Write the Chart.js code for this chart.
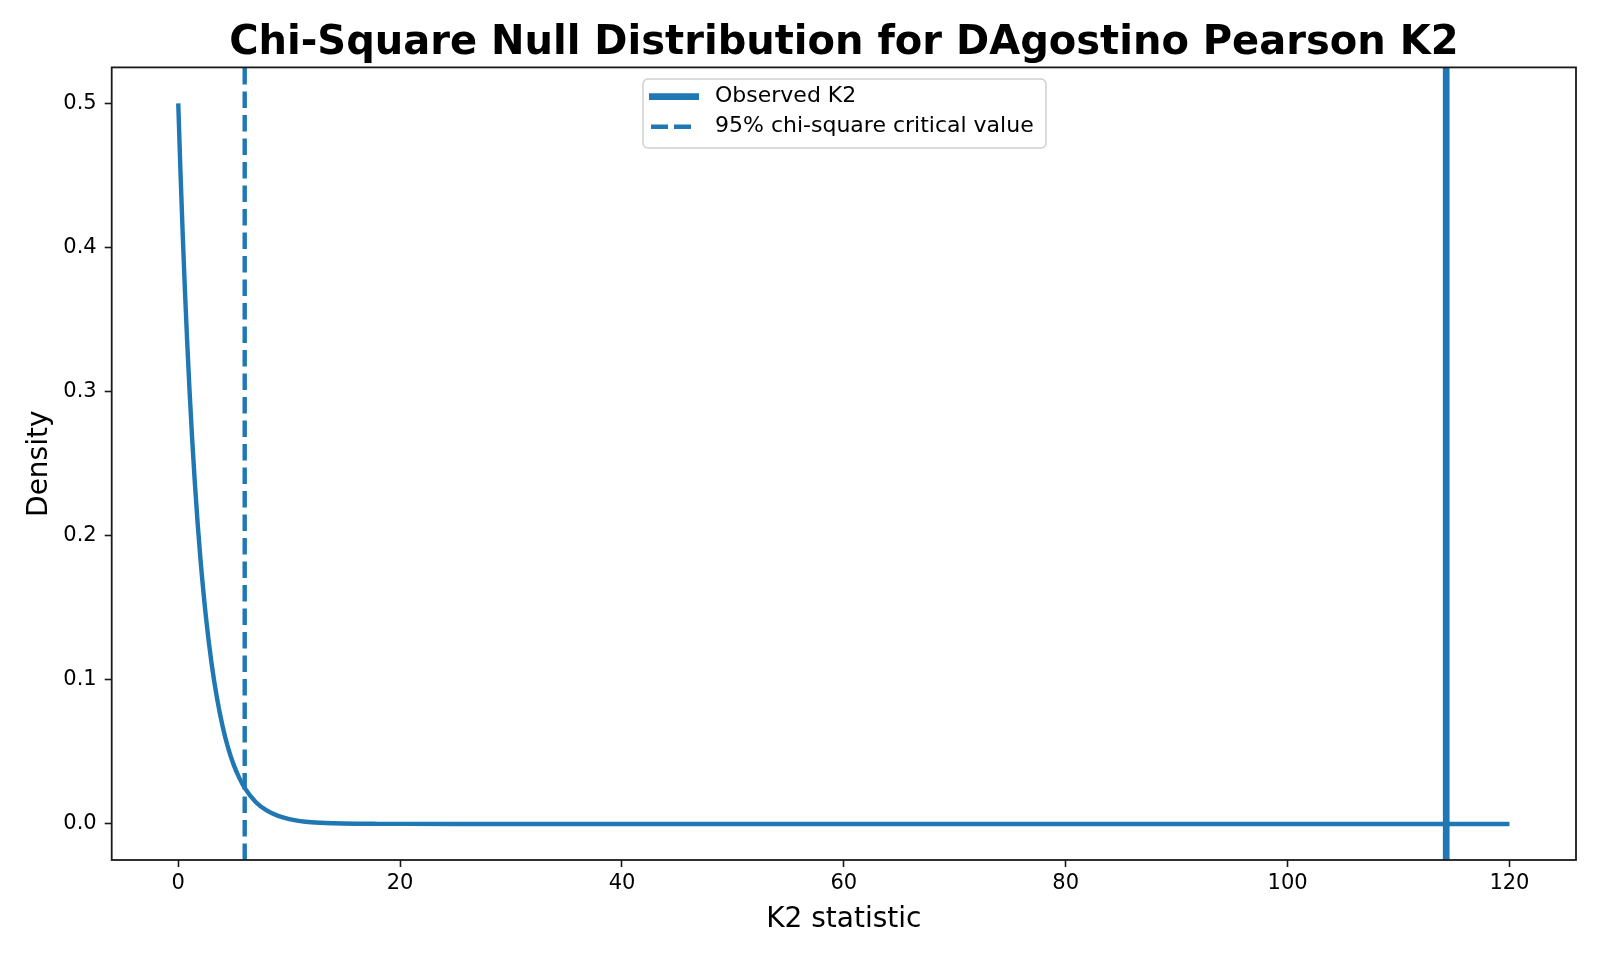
<!DOCTYPE html>
<html>
<head>
<meta charset="utf-8">
<script src="https://cdn.jsdelivr.net/npm/chart.js@4.4.1/dist/chart.umd.min.js"></script>
<style>
  html, body { margin: 0; padding: 0; background: #fff; }
  #wrap { width: 1600px; height: 960px; }
</style>
</head>
<body>
<div id="wrap"><canvas id="c" width="1600" height="960"></canvas></div>
<script>
// ---- data ----
const chartTitle = "Chi-Square Null Distribution for DAgostino Pearson K2";
const xAxisLabel = "K2 statistic";
const yAxisLabel = "Density";
const curveX = [0, 0.2, 0.4, 0.6, 0.8, 1, 1.25, 1.5, 1.75, 2, 2.5, 3, 3.5, 4, 4.5, 5, 5.5, 6, 7, 8, 9, 10, 11, 12, 14, 16, 18, 20, 25, 30, 40, 60, 80, 100, 120];
const curveY = [0.5, 0.4524, 0.4094, 0.3704, 0.3352, 0.3033, 0.2676, 0.2362, 0.2084, 0.1839, 0.1433, 0.1116, 0.0869, 0.0677, 0.0527, 0.0410, 0.0320, 0.0249, 0.0151, 0.0092, 0.0056, 0.0034, 0.0020, 0.0012, 0.0005, 0.0002, 0.0001, 0.00005, 0, 0, 0, 0, 0, 0, 0];
const observedK2 = 114.3;
const criticalValue = 5.99;
const seriesLabels = ["Observed K2", "95% chi-square critical value"];
const xTicks = [0, 20, 40, 60, 80, 100, 120];
const yTicks = [0.0, 0.1, 0.2, 0.3, 0.4, 0.5];
const xRange = [-6, 126];
const yRange = [-0.025, 0.525];

const BLUE = '#1f77b4';
const FONT = "'DejaVu Sans', sans-serif";

const curveData = curveX.map((x, i) => ({ x: x, y: curveY[i] }));
const vline = (v) => [{ x: v, y: yRange[0] }, { x: v, y: yRange[1] }];

const boxPlugin = {
  id: 'box',
  afterDraw(chart) {
    const { ctx, chartArea: a } = chart;
    ctx.save();
    ctx.strokeStyle = '#1a1a1a';
    ctx.lineWidth = 1.8;
    ctx.strokeRect(a.left, a.top, a.right - a.left, a.bottom - a.top);
    ctx.restore();
  }
};

const legendPlugin = {
  id: 'innerLegend',
  afterDraw(chart) {
    const { ctx } = chart;
    const bx = 643, by = 79, bw = 403, bh = 69, r = 5;
    ctx.save();
    ctx.fillStyle = 'rgba(255,255,255,0.8)';
    ctx.strokeStyle = '#d0d0d0';
    ctx.lineWidth = 1.5;
    ctx.beginPath();
    ctx.roundRect(bx, by, bw, bh, r);
    ctx.fill();
    ctx.stroke();
    const items = [chart.data.datasets[0], chart.data.datasets[1]];
    const rows = [96.7, 126.7];
    items.forEach((ds, i) => {
      ctx.strokeStyle = ds.borderColor;
      ctx.lineWidth = ds.borderWidth;
      ctx.setLineDash(i === 0 ? [] : [17, 6]);
      ctx.beginPath();
      ctx.moveTo(i === 0 ? 649 : 651, rows[i]);
      ctx.lineTo(i === 0 ? 699 : 691, rows[i]);
      ctx.stroke();
      ctx.setLineDash([]);
      ctx.fillStyle = '#000';
      ctx.font = `22px ${FONT}`;
      ctx.textBaseline = 'middle';
      ctx.textAlign = 'left';
      ctx.fillText(ds.label, 715, rows[i]);
    });
    ctx.restore();
  }
};

new Chart(document.getElementById('c'), {
  type: 'scatter',
  data: {
    datasets: [
      { label: seriesLabels[0], data: vline(observedK2), showLine: true, borderColor: BLUE, borderWidth: 6.7, pointRadius: 0, order: 0 },
      { label: seriesLabels[1], data: vline(criticalValue), showLine: true, borderColor: BLUE, borderWidth: 4.4, borderDash: [16.4, 7.1], pointRadius: 0, order: 1 },
      { label: 'Chi-square pdf', data: curveData, showLine: true, borderColor: BLUE, borderWidth: 4.4, pointRadius: 0, cubicInterpolationMode: 'monotone', order: 2 }
    ]
  },
  options: {
    responsive: false,
    animation: false,
    devicePixelRatio: 1,
    layout: { padding: { left: 0, right: 24, top: 0, bottom: 0 } },
    plugins: {
      legend: { display: false },
      tooltip: { enabled: false },
      title: {
        display: true,
        text: chartTitle,
        color: '#000',
        fullSize: false,
        font: { family: FONT, size: 40, weight: 'bold', lineHeight: 1.0 },
        padding: { top: 24, bottom: 3.4 }
      }
    },
    scales: {
      x: {
        type: 'linear',
        min: xRange[0], max: xRange[1],
        afterBuildTicks: (s) => { s.ticks = xTicks.map(v => ({ value: v })); },
        afterFit: (s) => { s.height = 100; },
        grid: { drawOnChartArea: false, drawTicks: true, tickLength: 7, tickColor: '#1a1a1a', tickWidth: 1.6 },
        border: { display: false },
        ticks: { color: '#000', font: { family: FONT, size: 21 }, padding: 4, maxRotation: 0, callback: (v) => String(v) },
        title: { display: true, text: xAxisLabel, color: '#000', font: { family: FONT, size: 28 }, padding: 23.5 }
      },
      y: {
        type: 'linear',
        min: yRange[0], max: yRange[1],
        afterBuildTicks: (s) => { s.ticks = yTicks.map(v => ({ value: v })); },
        afterFit: (s) => { s.width = 111.7; },
        grid: { drawOnChartArea: false, drawTicks: true, tickLength: 7, tickColor: '#1a1a1a', tickWidth: 1.6 },
        border: { display: false },
        ticks: { color: '#000', font: { family: FONT, size: 21 }, padding: 8, callback: (v) => Number(v).toFixed(1) },
        title: { display: true, text: yAxisLabel, color: '#000', font: { family: FONT, size: 28 }, padding: 22.5 }
      }
    }
  },
  plugins: [boxPlugin, legendPlugin]
});
</script>
</body>
</html>
